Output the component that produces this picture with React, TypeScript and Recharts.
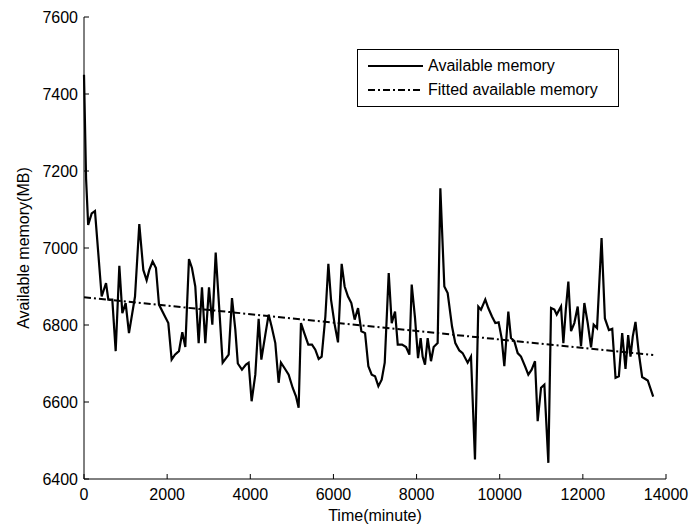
import { LineChart, Line, XAxis, YAxis } from "recharts";

const times = [
  0, 50, 100, 185, 264, 425, 530, 585, 681, 762, 850, 922, 1002, 1082, 1227, 1330,
  1427, 1507, 1571, 1651, 1731, 1804, 1948, 2028, 2108, 2188, 2284, 2365, 2437, 2525,
  2597, 2677, 2758, 2838, 2918, 3007, 3087, 3168, 3255, 3335, 3480, 3560, 3640, 3700,
  3800, 3896, 3960, 4032, 4121, 4201, 4266, 4362, 4441, 4513, 4602, 4682, 4738, 4818,
  4923, 5019, 5099, 5163, 5219, 5299, 5395, 5484, 5564, 5645, 5717, 5806, 5878, 5942,
  6030, 6110, 6198, 6270, 6351, 6431, 6511, 6592, 6672, 6761, 6840, 6921, 7001, 7081,
  7161, 7234, 7330, 7402, 7482, 7547, 7651, 7747, 7827, 7883, 7963, 8035, 8098, 8146,
  8203, 8267, 8347, 8411, 8507, 8572, 8668, 8748, 8853, 8932, 9028, 9108, 9229, 9309,
  9405, 9485, 9549, 9653, 9725, 9814, 9894, 9974, 10046, 10111, 10207, 10271, 10351,
  10432, 10512, 10608, 10688, 10768, 10849, 10913, 10994, 11074, 11170, 11235, 11315,
  11371, 11475, 11531, 11590, 11651, 11716, 11795, 11876, 11956, 12036, 12117, 12197,
  12260, 12341, 12450, 12530, 12627, 12707, 12786, 12866, 12946, 13026, 13090, 13146,
  13200, 13266, 13346, 13426, 13561, 13692,
];
const memory = [
  7450, 7180, 7060, 7090, 7096, 6874, 6909, 6866, 6866, 6732, 6954, 6831, 6857, 6779, 6874, 7062,
  6943, 6916, 6943, 6965, 6948, 6853, 6822, 6805, 6710, 6723, 6732, 6781, 6743, 6971,
  6948, 6900, 6753, 6898, 6753, 6898, 6801, 6988, 6840, 6702, 6723, 6870, 6788, 6700,
  6684, 6697, 6702, 6602, 6671, 6816, 6710, 6775, 6827, 6796, 6753, 6650, 6702, 6689,
  6671, 6637, 6615, 6585, 6805, 6779, 6749, 6749, 6736, 6712, 6718, 6822, 6959, 6866,
  6801, 6755, 6959, 6900, 6874, 6857, 6814, 6844, 6784, 6779, 6693, 6671, 6667, 6641,
  6658, 6702, 6935, 6805, 6835, 6749, 6749, 6743, 6723, 6905, 6818, 6714, 6766, 6718,
  6697, 6766, 6706, 6743, 6753, 7155, 6900, 6883, 6796, 6753, 6734, 6727, 6702, 6718,
  6451, 6848, 6840, 6866, 6844, 6822, 6805, 6807, 6766, 6693, 6835, 6766, 6758,
  6727, 6718, 6693, 6671, 6684, 6706, 6550, 6637, 6645, 6442, 6844, 6840,
  6827, 6848, 6753, 6840, 6913, 6784, 6805, 6848, 6745, 6857, 6805, 6742,
  6801, 6792, 7026, 6817, 6787, 6790, 6663, 6667, 6779, 6686, 6774, 6718,
  6770, 6808, 6727, 6665, 6656, 6614,
];
const fitTimes = [0, 13692];
const fitMemory = [6872, 6722];

const xTicks = [0, 2000, 4000, 6000, 8000, 10000, 12000, 14000];
const yTicks = [6400, 6600, 6800, 7000, 7200, 7400, 7600];

const FONT = "'Liberation Sans', Arial, Helvetica, sans-serif";
const TICK_LEN = 5;
const X_GAP = 10; // axis line -> label top
const Y_GAP = 6; // axis line -> label right edge

// MATLAB-like ticks: short marks pointing into the plot, label outside
function BottomTick(props: any) {
  const { x, y, payload } = props;
  const axisY = y - X_GAP;
  return (
    <g>
      <line x1={x} y1={axisY} x2={x} y2={axisY - TICK_LEN} stroke="#000" strokeWidth={1} />
      <text x={x} y={y} dy="0.71em" textAnchor="middle" fill="#000" fontSize={16} fontFamily={FONT}>
        {payload.value}
      </text>
    </g>
  );
}
function LeftTick(props: any) {
  const { x, y, payload } = props;
  const axisX = x + Y_GAP;
  return (
    <g>
      <line x1={axisX} y1={y} x2={axisX + TICK_LEN} y2={y} stroke="#000" strokeWidth={1} />
      <text x={x} y={y} dy="0.355em" textAnchor="end" fill="#000" fontSize={16} fontFamily={FONT}>
        {payload.value}
      </text>
    </g>
  );
}
function TopTick(props: any) {
  const { x, y } = props;
  return <line x1={x} y1={y} x2={x} y2={y + TICK_LEN} stroke="#000" strokeWidth={1} />;
}
function RightTick(props: any) {
  const { x, y } = props;
  return <line x1={x} y1={y} x2={x - TICK_LEN} y2={y} stroke="#000" strokeWidth={1} />;
}

export default function App() {
  const data = times.map((t, i) => ({ t, mem: memory[i] }));
  const fitData = fitTimes.map((t, i) => ({ t, fit: fitMemory[i] }));

  return (
    <div style={{ position: "absolute", left: 0, top: 0, width: 691, height: 524, background: "#fff", fontFamily: FONT }}>
      <LineChart width={691} height={524} data={data} margin={{ top: 17, right: 25, bottom: 0, left: 0 }}>
        <XAxis
          dataKey="t"
          type="number"
          domain={[0, 14000]}
          ticks={xTicks}
          tickLine={false}
          tickSize={0}
          tickMargin={X_GAP}
          height={45}
          stroke="#000"
          tick={<BottomTick />}
          label={{ value: "Time(minute)", position: "insideBottom", offset: 3, fill: "#000", fontSize: 16, fontFamily: FONT }}
        />
        <XAxis
          xAxisId="top"
          dataKey="t"
          type="number"
          orientation="top"
          domain={[0, 14000]}
          ticks={xTicks}
          tickLine={false}
          tickSize={0}
          tickMargin={0}
          height={0}
          stroke="#000"
          tick={<TopTick />}
        />
        <YAxis
          type="number"
          domain={[6400, 7600]}
          ticks={yTicks}
          tickLine={false}
          tickSize={0}
          tickMargin={Y_GAP}
          width={84}
          stroke="#000"
          tick={<LeftTick />}
          label={{ value: "Available memory(MB)", angle: -90, position: "center", dx: -19, fill: "#000", fontSize: 16, fontFamily: FONT }}
        />
        <YAxis
          yAxisId="right"
          type="number"
          orientation="right"
          domain={[6400, 7600]}
          ticks={yTicks}
          tickLine={false}
          tickSize={0}
          tickMargin={0}
          width={0}
          stroke="#000"
          tick={<RightTick />}
        />
        <Line
          type="linear"
          dataKey="mem"
          name="Available memory"
          stroke="#000"
          strokeWidth={2.2}
          dot={false}
          isAnimationActive={false}
        />
        <Line
          type="linear"
          data={fitData}
          dataKey="fit"
          name="Fitted available memory"
          stroke="#000"
          strokeWidth={2}
          strokeDasharray="7 3 2 3"
          dot={false}
          isAnimationActive={false}
        />
      </LineChart>

      {/* legend box, MATLAB style */}
      <div
        style={{
          position: "absolute", left: 357, top: 49, width: 262, height: 58,
          border: "1px solid #000", background: "#fff", boxSizing: "border-box",
          fontSize: 16, color: "#000",
        }}
      >
        <div style={{ position: "absolute", left: 10, top: 5, display: "flex", alignItems: "center", height: 22 }}>
          <svg width={55} height={4}><line x1={0} y1={2} x2={55} y2={2} stroke="#000" strokeWidth={2} /></svg>
          <span style={{ marginLeft: 5 }}>Available memory</span>
        </div>
        <div style={{ position: "absolute", left: 10, top: 29, display: "flex", alignItems: "center", height: 22 }}>
          <svg width={55} height={4}><line x1={0} y1={2} x2={55} y2={2} stroke="#000" strokeWidth={2} strokeDasharray="7 3 2 3" /></svg>
          <span style={{ marginLeft: 5 }}>Fitted available memory</span>
        </div>
      </div>
    </div>
  );
}
